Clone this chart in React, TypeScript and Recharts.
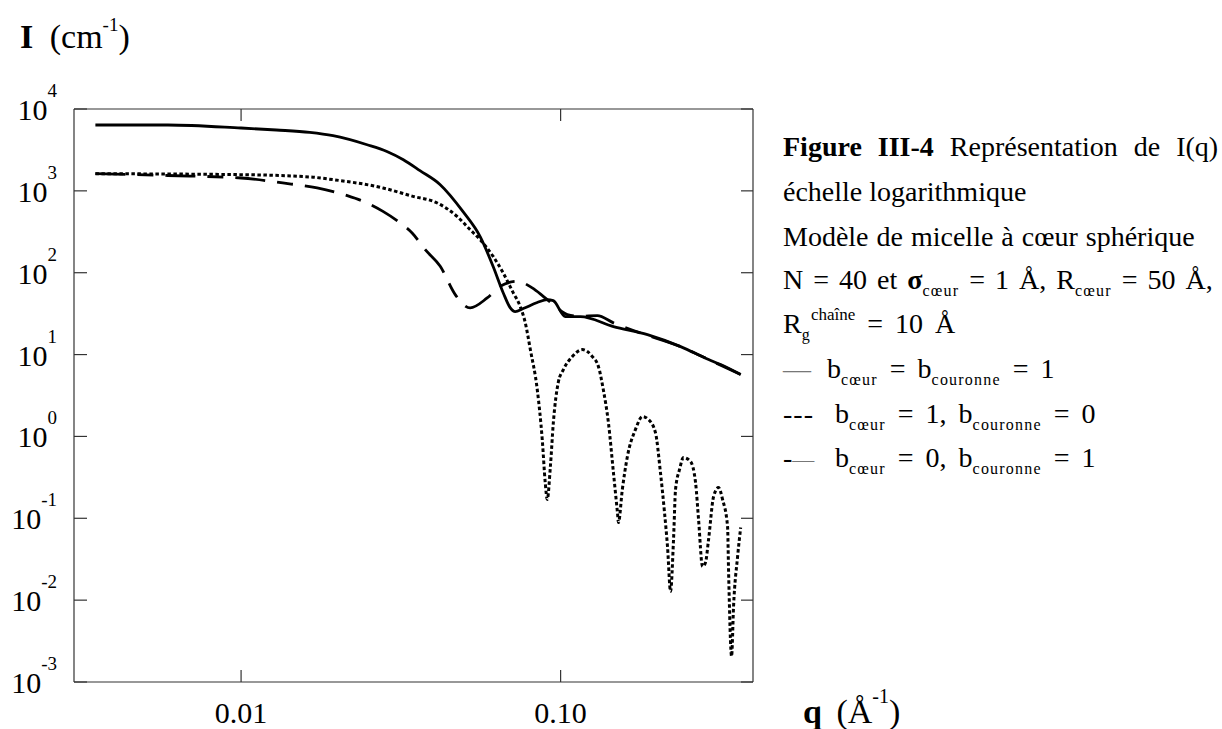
import React from 'react';
import { LineChart, Line, XAxis, YAxis } from 'recharts';

// q (Å^-1) and I (cm^-1)
const solidQ = [0.0035, 0.0059, 0.01, 0.0129, 0.0164, 0.0194, 0.0248, 0.0286, 0.0322, 0.0363, 0.042, 0.0495, 0.056, 0.0615, 0.0661, 0.0695, 0.0721, 0.0764, 0.0845, 0.0908, 0.0948, 0.1035, 0.1153, 0.1463, 0.187, 0.2374, 0.2905, 0.3168, 0.366];
const solidI = [6380, 6380, 5860, 5540, 5180, 4720, 3660, 3030, 2400, 1765, 1190, 557, 276, 119, 57, 37.5, 33.5, 36.5, 43.2, 47, 45.6, 29.1, 29.1, 22, 17.5, 12.5, 8.7, 7.55, 5.7];

const dottedQ = [0.0035, 0.01, 0.0164, 0.0194, 0.0278, 0.0345, 0.0411, 0.0474, 0.0521, 0.056, 0.0615, 0.0661, 0.0711, 0.0747, 0.0775, 0.0804, 0.0845, 0.0876, 0.0895, 0.0908, 0.0929, 0.0949, 0.0983, 0.102, 0.1088, 0.117, 0.1257, 0.1313, 0.136, 0.1411, 0.1463, 0.1506, 0.1517, 0.156, 0.1618, 0.1714, 0.1804, 0.1883, 0.198, 0.2053, 0.2114, 0.216, 0.2208, 0.2256, 0.2289, 0.2356, 0.2424, 0.255, 0.2644, 0.2702, 0.278, 0.2841, 0.2904, 0.3011, 0.312, 0.3212, 0.333, 0.3355, 0.3428, 0.3477, 0.358, 0.366];
const dottedI = [1620, 1577, 1479, 1371, 1085, 857, 711, 488, 336, 253, 158, 99.5, 56.7, 38.9, 24.6, 11.5, 3.74, 0.917, 0.274, 0.17, 0.43, 1.48, 4.55, 6.56, 9.46, 11.5, 9.46, 7.14, 3.74, 1.48, 0.363, 0.118, 0.089, 0.225, 0.569, 1.21, 1.75, 1.61, 1.12, 0.363, 0.118, 0.0453, 0.0128, 0.0551, 0.225, 0.395, 0.553, 0.494, 0.274, 0.0968, 0.0258, 0.0289, 0.0551, 0.1846, 0.2377, 0.17, 0.0794, 0.0218, 0.00206, 0.00838, 0.0342, 0.0772];

const dashedQ = [0.0035, 0.0059, 0.01, 0.0135, 0.0173, 0.0215, 0.0248, 0.0278, 0.0315, 0.0343, 0.0377, 0.042, 0.0468, 0.0521, 0.0589, 0.0647, 0.0731, 0.0815, 0.0882, 0.0949, 0.105, 0.1153, 0.1303, 0.1463, 0.1775, 0.2374, 0.2905, 0.366];
const dashedI = [1620, 1540, 1436, 1249, 1085, 873, 711, 562, 405, 306, 191, 120, 54, 37.2, 49.2, 68.2, 78.5, 65.2, 51.5, 40.7, 30.8, 29.4, 29.9, 24.4, 18.4, 12.5, 8.7, 5.7];

const xTicks = [0.01, 0.1];
const xTickLabels = ['0.01', '0.10'];
const yTicks = [1e-3, 1e-2, 1e-1, 1, 10, 100, 1000, 10000];

const toRows = (qs: number[], is: number[]) => qs.map((q, i) => ({ q, I: is[i] }));
const solidData = toRows(solidQ, solidI);
const dottedData = toRows(dottedQ, dottedI);
const dashedData = toRows(dashedQ, dashedI);

const FONT = '"Liberation Serif", "Times New Roman", serif';
const AX = '#333';

const BottomTick = ({ x, y, index }: any) => (
  <g>
    <line x1={x} y1={y} x2={x} y2={y - 12} stroke={AX} strokeWidth={1.2} />
    <text x={x} y={y + 41} textAnchor="middle" fontSize={30} fontFamily={FONT} fill="#000">{xTickLabels[index]}</text>
  </g>
);
const TopTick = ({ x, y }: any) => <line x1={x} y1={y} x2={x} y2={y + 12} stroke={AX} strokeWidth={1.2} />;
const RightTick = ({ x, y }: any) => <line x1={x} y1={y} x2={x - 12} y2={y} stroke={AX} strokeWidth={1.2} />;
const LeftTick = ({ x, y, payload }: any) => {
  const exp = Math.round(Math.log10(payload.value));
  return (
    <g>
      <line x1={x} y1={y} x2={x + 13} y2={y} stroke={AX} strokeWidth={1.2} />
      <text x={x - 17} y={y + 11} textAnchor="end" fontSize={30} fontFamily={FONT} fill="#000">
        10<tspan dy={-23} fontSize={19}>{exp}</tspan>
      </text>
    </g>
  );
};

// axes are 1px thick so the axis line sits right on the plot edge
const axisCommon = { tickSize: 0, tickMargin: 0, tickLine: false, allowDataOverflow: true, interval: 0 as const, axisLine: { stroke: AX, strokeWidth: 1.2 } };

const Sub = ({ children }: any) => <tspan dy={7} fontSize={16} letterSpacing={1.2}>{children}</tspan>;
const Up = ({ children }: any) => <tspan dy={-7} letterSpacing={0}>{children}</tspan>;

export default function App() {
  return (
    <div style={{ position: 'absolute', left: 0, top: 0, width: 1222, height: 729, background: '#fff' }}>
      <LineChart width={1222} height={729} margin={{ top: 108, right: 468, bottom: 46, left: 73 }}>
        <XAxis xAxisId="b" dataKey="q" type="number" scale="log" domain={[0.003, 0.4]} ticks={xTicks} height={1} tick={(p: any) => <BottomTick {...p} />} {...axisCommon} />
        <XAxis xAxisId="t" orientation="top" dataKey="q" type="number" scale="log" domain={[0.003, 0.4]} ticks={xTicks} height={1} tick={(p: any) => <TopTick {...p} />} {...axisCommon} />
        <YAxis yAxisId="l" type="number" scale="log" domain={[1e-3, 1e4]} ticks={yTicks} width={1} tick={(p: any) => <LeftTick {...p} />} {...axisCommon} />
        <YAxis yAxisId="r" orientation="right" type="number" scale="log" domain={[1e-3, 1e4]} ticks={yTicks} width={1} tick={(p: any) => <RightTick {...p} />} {...axisCommon} />
        <Line xAxisId="b" yAxisId="l" data={dashedData} dataKey="I" type="monotone" stroke="#000" strokeWidth={2.8} strokeDasharray="30 12 16 12" dot={false} activeDot={false} isAnimationActive={false} />
        <Line xAxisId="b" yAxisId="l" data={dottedData} dataKey="I" type="monotone" stroke="#000" strokeWidth={3} strokeDasharray="3.5 2.5" dot={false} activeDot={false} isAnimationActive={false} />
        <Line xAxisId="b" yAxisId="l" data={solidData} dataKey="I" type="monotone" stroke="#000" strokeWidth={2.8} dot={false} activeDot={false} isAnimationActive={false} />
      </LineChart>
      <svg width={1222} height={729} style={{ position: 'absolute', left: 0, top: 0, pointerEvents: 'none' }} fontFamily={FONT} fill="#000">
        <text x={20} y={48} fontSize={34} wordSpacing={8}>
          <tspan fontWeight="bold">I</tspan> (cm<tspan dy={-17} fontSize={19}>-1</tspan><tspan dy={17}>)</tspan>
        </text>
        <text x={803} y={723} fontSize={34} wordSpacing={6}>
          <tspan fontWeight="bold">q</tspan> (Å<tspan dy={-20} fontSize={20}>-1</tspan><tspan dy={20}>)</tspan>
        </text>

        <text x={783} y={156} fontSize={28} wordSpacing={9}>
          <tspan fontWeight="bold">Figure III-4</tspan>{' Représentation de I(q)'}
        </text>
        <text x={783} y={201} fontSize={28}>échelle logarithmique</text>
        <text x={783} y={246} fontSize={28} wordSpacing={1}>Modèle de micelle à cœur sphérique</text>
        <text x={783} y={289} fontSize={28} wordSpacing={3}>
          {'N = 40 et '}<tspan fontWeight="bold">σ</tspan><Sub>cœur</Sub><Up>{' = 1 Å, R'}</Up><Sub>cœur</Sub><Up>{' = 50 Å,'}</Up>
        </text>
        <text x={783} y={333} fontSize={28} wordSpacing={5}>
          R<Sub>g</Sub><tspan dy={-20} fontSize={17}>chaîne</tspan><tspan dy={13}>{' = 10 Å'}</tspan>
        </text>

        <text x={783} y={378} fontSize={28} fill="#777">—</text>
        <text x={827} y={378} fontSize={28} wordSpacing={5}>
          b<Sub>cœur</Sub><Up>{' = b'}</Up><Sub>couronne</Sub><Up>{' = 1'}</Up>
        </text>

        <text x={783} y={423} fontSize={28} letterSpacing={1}>---</text>
        <text x={835} y={423} fontSize={28} wordSpacing={5}>
          b<Sub>cœur</Sub><Up>{' = 1, b'}</Up><Sub>couronne</Sub><Up>{' = 0'}</Up>
        </text>

        <text x={783} y={467} fontSize={28}>-<tspan fill="#777" fontSize={22}>—</tspan></text>
        <text x={835} y={467} fontSize={28} wordSpacing={5}>
          b<Sub>cœur</Sub><Up>{' = 0, b'}</Up><Sub>couronne</Sub><Up>{' = 1'}</Up>
        </text>
      </svg>
    </div>
  );
}
